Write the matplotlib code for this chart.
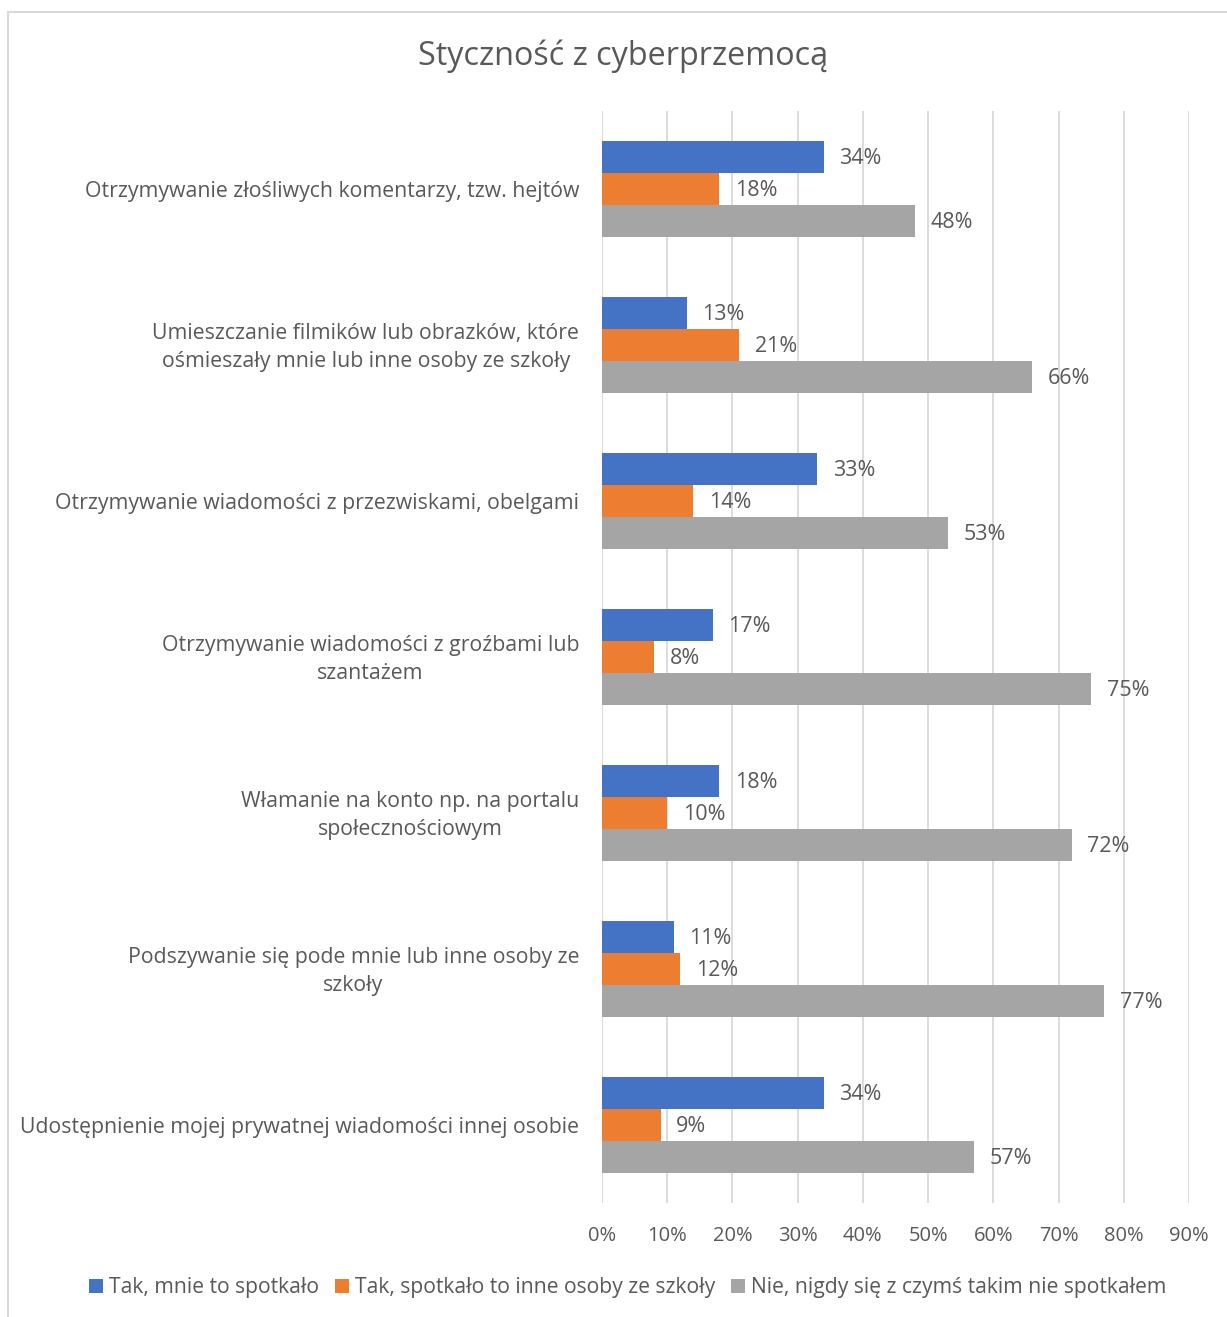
import matplotlib
matplotlib.use("Agg")
import matplotlib.pyplot as plt
from matplotlib.patches import Rectangle
from matplotlib.transforms import ScaledTranslation
import numpy as np

categories = [
    "Otrzymywanie złośliwych komentarzy, tzw. hejtów",
    "Umieszczanie filmików lub obrazków, które\nośmieszały mnie lub inne osoby ze szkoły",
    "Otrzymywanie wiadomości z przezwiskami, obelgami",
    "Otrzymywanie wiadomości z groźbami lub\nszantażem",
    "Włamanie na konto np. na portalu\nspołecznościowym",
    "Podszywanie się pode mnie lub inne osoby ze\nszkoły",
    "Udostępnienie mojej prywatnej wiadomości innej osobie",
]
series_names = [
    "Tak, mnie to spotkało",
    "Tak, spotkało to inne osoby ze szkoły",
    "Nie, nigdy się z czymś takim nie spotkałem",
]
tak_mnie = [34, 13, 33, 17, 18, 11, 34]
tak_inne = [18, 21, 14, 8, 10, 12, 9]
nie = [48, 66, 53, 75, 72, 77, 57]
x_ticks = [0, 10, 20, 30, 40, 50, 60, 70, 80, 90]

colors = ["#4472C4", "#ED7D31", "#A5A5A5"]
text_color = "#595959"
plt.rcParams['font.family'] = ['Open Sans', 'DejaVu Sans']

W, H = 1227, 1317
fig = plt.figure(figsize=(W / 100, H / 100), dpi=100)
fig.patches.append(Rectangle((8 / W, -0.1), 1.2, 1 - 12 / H + 0.1, transform=fig.transFigure,
                             fill=False, edgecolor="#D9D9D9", linewidth=1.5))

ax = fig.add_axes([602 / W, 1 - 1203 / H, (1189 - 602) / W, (1203 - 111) / H])
n = len(categories)
ypos = np.arange(n)
bh = 32 / 156
all_series = [tak_mnie, tak_inne, nie]
for i, (vals, c, name) in enumerate(zip(all_series, colors, series_names)):
    y = ypos + (i - 1) * bh
    v = np.array(vals) / 100
    ax.barh(y, v, height=bh, color=c, label=name, zorder=3)
    for yy, vv, raw in zip(y, v, vals):
        ax.text(vv + 0.024, yy + 0.01, f"{raw}%", va="center", ha="left", fontsize=15.5, color=text_color)

ax.set_ylim(n - 0.5, -0.5)
ax.set_xlim(0, 0.9)
ax.set_xticks([t / 100 for t in x_ticks])
ax.set_xticklabels([f"{t}%" for t in x_ticks], fontsize=14.5, color=text_color)
ax.set_yticks(ypos)
ax.set_yticklabels(categories, fontsize=15.3, color=text_color, multialignment="center",
                   linespacing=1.45)
ax.tick_params(axis="both", length=0)
ax.tick_params(axis="x", pad=16.5)
ax.tick_params(axis="y", pad=16.5)
ax.grid(axis="x", color="#D9D9D9", linewidth=1.3, zorder=0)
for s in ax.spines.values():
    s.set_visible(False)

for lab in ax.get_yticklabels():
    if "\n" in lab.get_text():
        lab.set_transform(lab.get_transform() + ScaledTranslation(0, 4 / 100, fig.dpi_scale_trans))

fig.text(623 / W, 1 - 56 / H, "Styczność z cyberprzemocą", ha="center", va="center",
         fontsize=23.3, color=text_color)

handles, labels = ax.get_legend_handles_labels()
fig.legend(handles, labels, loc="center", bbox_to_anchor=(628 / W, 1 - 1288 / H), ncol=3,
           frameon=False, fontsize=15.2, labelcolor=text_color, handlelength=0.65, handleheight=0.65,
           handletextpad=0.3, columnspacing=0.75)

fig.savefig("out.png", dpi=100)
